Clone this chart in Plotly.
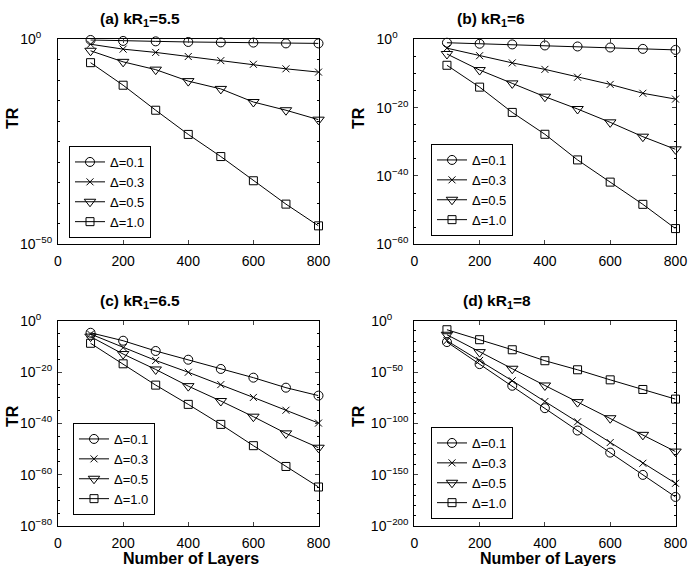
import plotly.graph_objects as go
from plotly.subplots import make_subplots

# number of layers (x axis, same for all panels)
layers = [100, 200, 300, 400, 500, 600, 700, 800]
deltas = ["0.1", "0.3", "0.5", "1.0"]

# log10(TR), one list per curve
# (a) kR1 = 5.5
a_01 = [-0.16, -0.4, -0.5, -0.65, -0.75, -0.8, -1.0, -1.0]
a_03 = [-1.2, -2.4, -3.2, -4.2, -5.2, -6.1, -7.2, -8.0]
a_05 = [-2.8, -5.5, -7.4, -10.2, -12.1, -15.3, -17.3, -19.6]
a_10 = [-5.7, -11.2, -17.3, -23.2, -28.6, -34.5, -40.2, -45.5]
# (b) kR1 = 6
b_01 = [-1.0, -1.3, -1.5, -1.8, -2.1, -2.4, -2.8, -3.1]
b_03 = [-2.6, -4.8, -6.9, -8.8, -11.1, -13.2, -15.8, -17.5]
b_05 = [-4.3, -9.0, -12.9, -16.8, -20.4, -24.3, -28.5, -32.2]
b_10 = [-7.6, -14.0, -21.4, -27.8, -35.3, -41.8, -48.3, -55.4]
# (c) kR1 = 6.5
c_01 = [-4.7, -7.8, -11.8, -15.2, -18.8, -22.2, -26.1, -29.2]
c_03 = [-5.2, -10.5, -15.5, -20.1, -24.9, -29.9, -34.9, -39.9]
c_05 = [-6.2, -13.0, -19.0, -25.5, -31.3, -37.4, -43.9, -49.5]
c_10 = [-8.8, -16.8, -25.1, -32.6, -40.4, -48.7, -56.8, -64.8]
# (d) kR1 = 8
d_01 = [-20.8, -42.3, -63.4, -85.2, -107.0, -128.5, -150.2, -171.7]
d_03 = [-19.5, -38.7, -58.5, -78.7, -98.5, -118.7, -138.9, -158.4]
d_05 = [-13.7, -30.6, -46.8, -63.1, -79.3, -95.0, -111.2, -127.5]
d_10 = [-8.8, -18.5, -28.3, -39.0, -47.8, -57.6, -67.0, -76.4]

panels = [
    {"title": "(a) kR<sub>1</sub>=5.5", "curves": [a_01, a_03, a_05, a_10],
     "ymin": -50, "major": 50, "minor": 5},
    {"title": "(b) kR<sub>1</sub>=6", "curves": [b_01, b_03, b_05, b_10],
     "ymin": -60, "major": 20, "minor": 5},
    {"title": "(c) kR<sub>1</sub>=6.5", "curves": [c_01, c_03, c_05, c_10],
     "ymin": -80, "major": 20, "minor": 5},
    {"title": "(d) kR<sub>1</sub>=8", "curves": [d_01, d_03, d_05, d_10],
     "ymin": -200, "major": 50, "minor": 10},
]

symbols = ["circle-open", "x-thin-open", "triangle-down-open", "square-open"]
sizes = [9, 7, 10, 8]

W, H = 692, 566
FONT = "Liberation Sans, Arial, sans-serif"

# plot area boxes in pixels: left, right, top, bottom
boxes = [(58, 318.5, 39.3, 244.3), (414.3, 675.5, 39.3, 244.3),
         (58, 318.5, 320.7, 526), (414.3, 675.5, 320.7, 526)]
legend_pos = [(69, 146), (431, 144), (73, 423), (431, 427)]
title_pos = [(140, 19), (491, 19), (140, 301), (497, 301)]
tr_pos = [(12, 118), (358, 118), (12, 416), (358, 416)]


def power_labels(exps):
    """ 10^k labels, padded so they line up on the left like the original """
    sups = [str(k).replace("-", "−") for k in exps]
    longest = max(len(s) for s in sups)
    return ["10<sup>" + s + "\u00a0" * (2 * (longest - len(s))) + "</sup>" for s in sups]


fig = make_subplots(rows=2, cols=2)

annotations = []
for i, p in enumerate(panels):
    row, col = i // 2 + 1, i % 2 + 1
    leg = "legend" if i == 0 else f"legend{i + 1}"
    for j, exps in enumerate(p["curves"]):
        fig.add_trace(go.Scatter(
            x=layers, y=[10.0 ** e for e in exps], mode="lines+markers",
            name="Δ=" + deltas[j], legend=leg, cliponaxis=False,
            line=dict(color="black", width=1),
            marker=dict(symbol=symbols[j], size=sizes[j], color="black",
                        line=dict(color="black", width=1))),
            row=row, col=col)

    l, r, t, b = boxes[i]
    majors = list(range(0, p["ymin"] - 1, -p["major"]))
    minors = [k for k in range(0, p["ymin"] - 1, -p["minor"]) if k not in majors]
    fig.update_xaxes(domain=[l / W, r / W], range=[0, 800],
                     tickvals=[0, 200, 400, 600, 800], ticks="inside", ticklen=4,
                     showline=True, mirror="allticks", linecolor="black", linewidth=1,
                     showgrid=False, zeroline=False, ticklabelstandoff=4,
                     tickfont=dict(family=FONT, size=14, color="black"),
                     row=row, col=col)
    fig.update_yaxes(domain=[1 - b / H, 1 - t / H], type="log", range=[p["ymin"], 0],
                     tickvals=[10.0 ** k for k in majors],
                     ticktext=power_labels(majors),
                     ticks="inside", ticklen=4,
                     minor=dict(tickvals=[10.0 ** k for k in minors], ticks="inside",
                                ticklen=2, tickcolor="black", showgrid=False),
                     showline=True, mirror="allticks", linecolor="black", linewidth=1,
                     showgrid=False, zeroline=False, ticklabelstandoff=2,
                     tickfont=dict(family=FONT, size=14, color="black"),
                     row=row, col=col)

    lx, ly = legend_pos[i]
    fig.update_layout({leg: dict(x=lx / W, y=1 - ly / H, xanchor="left", yanchor="top",
                                 bgcolor="white", bordercolor="black", borderwidth=1,
                                 font=dict(family=FONT, size=13, color="black"),
                                 itemwidth=30)})

    tx, ty = title_pos[i]
    annotations.append(dict(text="<b>" + p["title"] + "</b>", x=tx / W, y=1 - ty / H,
                            xref="paper", yref="paper", showarrow=False,
                            xanchor="center", yanchor="middle",
                            font=dict(family=FONT, size=15.5, color="black")))
    rx, ry = tr_pos[i]
    annotations.append(dict(text="<b>TR</b>", x=rx / W, y=1 - ry / H, textangle=-90,
                            xref="paper", yref="paper", showarrow=False,
                            xanchor="center", yanchor="middle",
                            font=dict(family=FONT, size=16, color="black")))

for cx in [191, 548]:
    annotations.append(dict(text="<b>Number of Layers</b>", x=cx / W, y=1 - 558 / H,
                            xref="paper", yref="paper", showarrow=False,
                            xanchor="center", yanchor="middle",
                            font=dict(family=FONT, size=16, color="black")))

fig.update_layout(width=W, height=H,
                  margin=dict(l=0, r=0, t=0, b=0, autoexpand=False),
                  paper_bgcolor="white", plot_bgcolor="white",
                  showlegend=True, annotations=annotations,
                  font=dict(family=FONT, color="black"))

# drop the page's default body margin so the figure sits at the window corner
fig.write_html("out.html", config={"displayModeBar": False},
               post_script="document.body.style.margin='0';"
                           "document.body.style.overflow='hidden';")
